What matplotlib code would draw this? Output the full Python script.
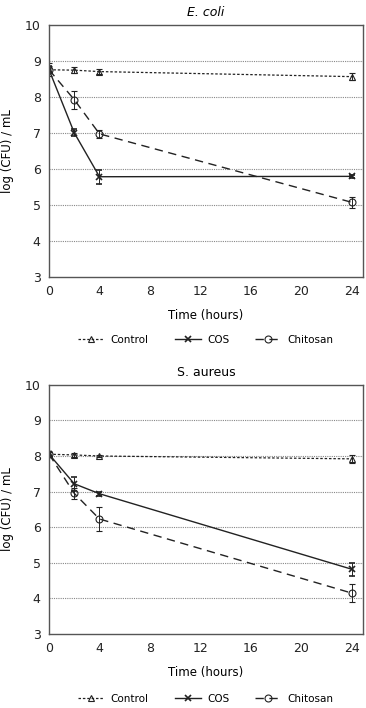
import matplotlib
matplotlib.use("Agg")
import matplotlib.pyplot as plt
from matplotlib.lines import Line2D

# sampling times (hours)
hours = [0, 2, 4, 24]

# E. coli, log(CFU)/mL
ecoli_control = [8.75, 8.74, 8.70, 8.56]
ecoli_control_err = [0.18, 0.08, 0.08, 0.10]
ecoli_cos = [8.75, 7.00, 5.78, 5.79]
ecoli_cos_err = [0.10, 0.10, 0.20, 0.05]
ecoli_chitosan = [8.75, 7.92, 6.97, 5.07]
ecoli_chitosan_err = [0.10, 0.25, 0.12, 0.15]

# S. aureus, log(CFU)/mL
saureus_control = [8.05, 8.03, 8.00, 7.92]
saureus_control_err = [0.05, 0.06, 0.04, 0.12]
saureus_cos = [8.05, 7.22, 6.94, 4.82]
saureus_cos_err = [0.05, 0.20, 0.05, 0.18]
saureus_chitosan = [8.05, 6.95, 6.23, 4.15]
saureus_chitosan_err = [0.05, 0.15, 0.35, 0.25]

xticks = [0, 4, 8, 12, 16, 20, 24]
yticks = [3, 4, 5, 6, 7, 8, 9, 10]

ink = '#222222'
styles = {
    'Control': dict(ls=(0, (2, 1.5)), lw=0.9, marker='^', ms=5, mfc='none', mew=0.8),
    'COS': dict(ls='-', lw=1.0, marker='x', ms=5, mew=1.2),
    'Chitosan': dict(ls=(0, (6, 4)), lw=1.0, marker='o', ms=5, mfc='none', mew=0.8),
}

fig = plt.figure(figsize=(3.66, 7.08), dpi=100)
ax1 = fig.add_axes([0.134, 0.609, 0.858, 0.356])
ax2 = fig.add_axes([0.134, 0.1045, 0.858, 0.352])


def panel(ax, title, italic, series, legend_y):
    for name, vals, errs in series:
        ax.errorbar(hours, vals, yerr=errs, color=ink, mec=ink, capsize=2,
                    elinewidth=0.7, capthick=0.7, **styles[name])
    ax.set_xlim(0, 24.9)
    ax.set_ylim(3, 10)
    ax.set_xticks(xticks)
    ax.set_yticks(yticks)
    for v in yticks[1:-1]:
        ax.axhline(v, color='#888888', lw=0.8, ls=(0, (1, 1)), zorder=0)
    ax.tick_params(length=0, labelsize=9, colors='#222222', pad=6)
    for s in ax.spines.values():
        s.set_color('#555555')
        s.set_linewidth(1.0)
    ax.set_title(title, fontsize=9, style='italic' if italic else 'normal', pad=6)
    ax.set_xlabel('Time (hours)', fontsize=8.5, labelpad=8)
    ax.set_ylabel('log (CFU) / mL', fontsize=8.5, labelpad=8)
    handles = [Line2D([], [], color=ink, mec=ink, **styles[n]) for n, _, _ in series]
    ax.legend(handles, [n for n, _, _ in series], loc='center', bbox_to_anchor=(0.5, legend_y),
              ncol=3, frameon=False, fontsize=7.5, handlelength=2.5, columnspacing=2.5,
              handletextpad=0.6)


panel(ax1, 'E. coli', True,
      [('Control', ecoli_control, ecoli_control_err),
       ('COS', ecoli_cos, ecoli_cos_err),
       ('Chitosan', ecoli_chitosan, ecoli_chitosan_err)], -0.25)
panel(ax2, 'S. aureus', False,
      [('Control', saureus_control, saureus_control_err),
       ('COS', saureus_cos, saureus_cos_err),
       ('Chitosan', saureus_chitosan, saureus_chitosan_err)], -0.26)

fig.savefig('out.png', dpi=100)
